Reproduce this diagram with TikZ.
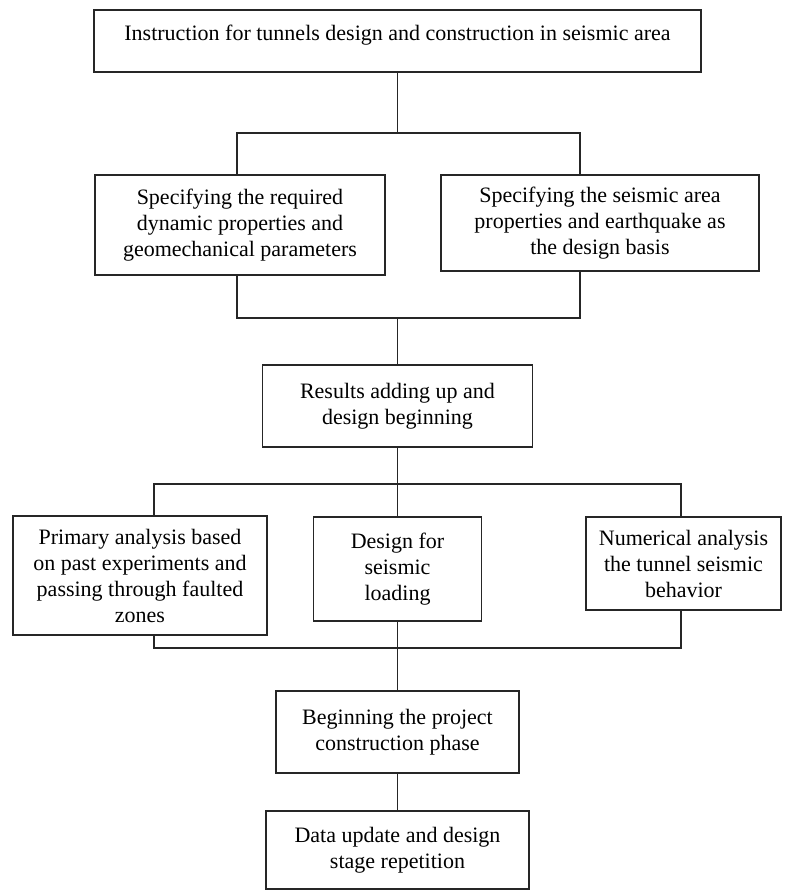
\documentclass[tikz,border=0pt]{standalone}
\usepackage{fontspec}
\setmainfont{Liberation Serif}
\usetikzlibrary{positioning}

\begin{document}
\begin{tikzpicture}[
    x=1pt, y=-1pt,
    box/.style={draw=black!85, line width=1.6pt, rectangle, align=center, inner sep=0pt, font=\fontsize{22}{26}\selectfont},
    link/.style={draw=black!85, line width=1.6pt}
]
\useasboundingbox (0,0) rectangle (785,892);

% Top instruction
\node[box, minimum width=607pt, minimum height=62pt, text depth=17pt] (instr) at (397.5,41) {Instruction for tunnels design and construction in seismic area};

% Specifications
\node[box, minimum width=290pt, minimum height=100pt] (specgeo) at (240,225) {Specifying the required\\dynamic properties and\\geomechanical parameters};
\node[box, minimum width=318pt, minimum height=96pt] (specarea) at (600,223) {Specifying the seismic area\\properties and earthquake as\\the design basis};

% Results
\node[box, minimum width=270pt, minimum height=82pt] (results) at (397.5,406) {Results adding up and\\design beginning};

% Analyses
\node[box, minimum width=254pt, minimum height=119pt] (primary) at (140,575.5) {Primary analysis based\\on past experiments and\\passing through faulted\\zones};
\node[box, minimum width=168pt, minimum height=104pt] (design) at (397.5,569) {Design for\\seismic\\loading};
\node[box, minimum width=195pt, minimum height=93pt] (numeric) at (683.5,563.5) {Numerical analysis\\the tunnel seismic\\behavior};

% Construction
\node[box, minimum width=243pt, minimum height=82pt] (construct) at (397.5,732) {Beginning the project\\construction phase};
\node[box, minimum width=263pt, minimum height=78pt] (update) at (397.5,850) {Data update and design\\stage repetition};

% Junctions
\coordinate (fork1) at (397.5,133);
\coordinate (join1) at (397.5,318);
\coordinate (fork2) at (397.5,484);
\coordinate (join2) at (397.5,648);

% Lines
\draw[link] (instr) -- (fork1);
\draw[link] ([xshift=-3pt]specgeo.north) |- (fork1) -| ([xshift=-20pt]specarea.north);
\draw[link] ([xshift=-3pt]specgeo.south) |- (join1) -| ([xshift=-20pt]specarea.south);
\draw[link] (join1) -- (results);
\draw[link] (results) -- (design);
\draw[link] ([xshift=14pt]primary.north) |- (fork2) -| ([xshift=-2.5pt]numeric.north);
\draw[link] ([xshift=14pt]primary.south) |- (join2) -| ([xshift=-2.5pt]numeric.south);
\draw[link] (design) -- (construct);
\draw[link] (construct) -- (update);

\end{tikzpicture}
\end{document}
